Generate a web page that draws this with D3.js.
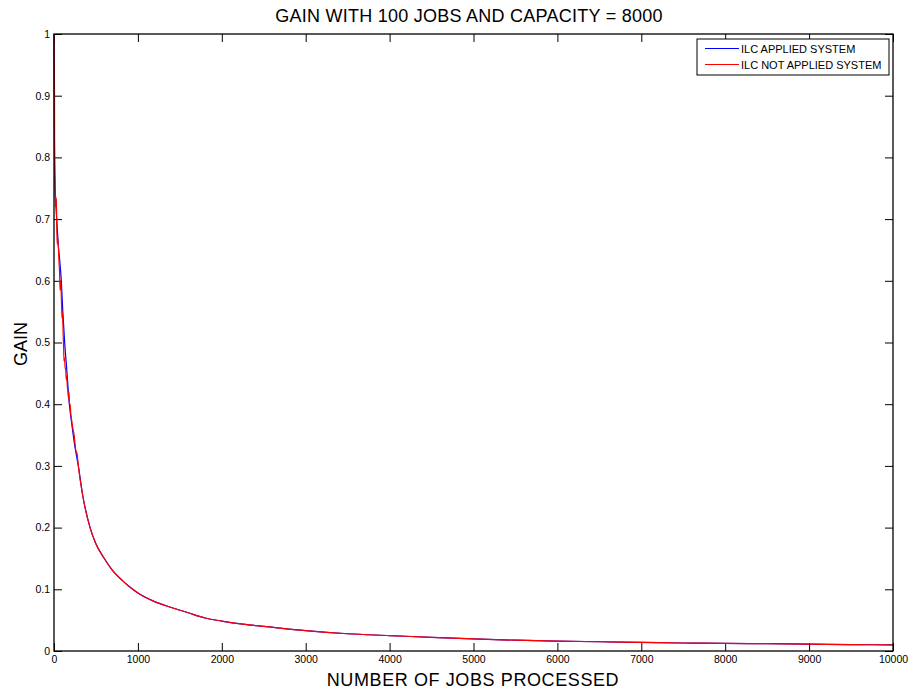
<!DOCTYPE html>
<html>
<head>
<meta charset="utf-8">
<script src="https://cdn.jsdelivr.net/npm/d3@7/dist/d3.min.js"></script>
<style>
  html, body { margin: 0; padding: 0; background: #fff; }
  svg { display: block; font-family: "Liberation Sans", Arial, sans-serif; }
</style>
</head>
<body>
<svg id="chart" width="912" height="693"></svg>
<script>
// Jobs processed (x) and gain readings for each system
const jobsApplied = [0, 4, 10, 20, 32, 50, 70, 87, 105, 127, 150, 183, 210, 245, 290, 345, 430, 495, 590, 690, 800, 900, 1000, 1200, 1400, 1600, 1800, 2000, 2250, 2500, 3000, 3500, 4000, 4500, 5000, 5500, 6000, 6500, 7000, 7500, 8000, 8500, 9000, 9500, 10000];
const gainApplied = [1.0, 0.85, 0.77, 0.73, 0.70, 0.66, 0.63, 0.60, 0.55, 0.50, 0.46, 0.40, 0.37, 0.335, 0.30, 0.25, 0.20, 0.175, 0.152, 0.132, 0.116, 0.104, 0.094, 0.080, 0.0705, 0.062, 0.0535, 0.0485, 0.0435, 0.040, 0.033, 0.028, 0.025, 0.022, 0.0195, 0.0175, 0.016, 0.015, 0.014, 0.013, 0.0125, 0.0118, 0.011, 0.0104, 0.0098];

const jobsNotApplied = [0, 2, 4, 6, 8, 10, 12, 16, 22, 28, 34, 38, 44, 52, 60, 66, 72, 80, 88, 95, 100, 108, 115, 119, 126, 132, 140, 146, 152, 158, 166, 172, 178, 184, 192, 200, 210, 220, 226, 240, 260, 275, 290, 345, 430, 495, 590, 690, 800, 900, 1000, 1200, 1400, 1600, 1800, 2000, 2250, 2500, 3000, 3500, 4000, 4500, 5000, 5500, 6000, 6500, 7000, 7500, 8000, 8500, 9000, 9500, 10000];
const gainNotApplied = [1.0, 0.96, 0.94, 0.905, 0.80, 0.77, 0.766, 0.72, 0.735, 0.73, 0.68, 0.66, 0.67, 0.655, 0.63, 0.615, 0.585, 0.60, 0.57, 0.54, 0.55, 0.52, 0.49, 0.47, 0.475, 0.46, 0.455, 0.44, 0.445, 0.43, 0.42, 0.41, 0.42, 0.40, 0.40, 0.385, 0.375, 0.365, 0.36, 0.35, 0.325, 0.32, 0.30, 0.25, 0.20, 0.175, 0.152, 0.132, 0.116, 0.104, 0.094, 0.080, 0.0705, 0.062, 0.0535, 0.0485, 0.0435, 0.040, 0.033, 0.028, 0.025, 0.022, 0.0195, 0.0175, 0.016, 0.015, 0.014, 0.013, 0.0125, 0.0118, 0.011, 0.0104, 0.0098];

const xTicks = [0, 1000, 2000, 3000, 4000, 5000, 6000, 7000, 8000, 9000, 10000];
const yTicks = [0, 0.1, 0.2, 0.3, 0.4, 0.5, 0.6, 0.7, 0.8, 0.9, 1];
const seriesNames = ["ILC APPLIED SYSTEM", "ILC NOT APPLIED SYSTEM"];
const seriesColors = ["#0000ff", "#ff0000"];

const margin = { left: 54, right: 19, top: 34, bottom: 42 };
const W = 912, H = 693;
const svg = d3.select("#chart");

const x = d3.scaleLinear().domain([0, 10000]).range([margin.left, W - margin.right]);
const y = d3.scaleLinear().domain([0, 1]).range([H - margin.bottom, margin.top]);

const tickLen = 8;

// Bottom axis (inward ticks, labelled)
const axBottom = svg.append("g").attr("transform", `translate(0,${y(0)})`)
  .call(d3.axisBottom(x).tickValues(xTicks).tickSizeInner(-tickLen).tickSizeOuter(0).tickPadding(5).tickFormat(d3.format("d")));
// Top axis (ticks only)
const axTop = svg.append("g").attr("transform", `translate(0,${y(1)})`)
  .call(d3.axisTop(x).tickValues(xTicks).tickSizeInner(-tickLen).tickSizeOuter(0).tickFormat(""));
// Left axis (labelled)
const axLeft = svg.append("g").attr("transform", `translate(${x(0)},0)`)
  .call(d3.axisLeft(y).tickValues(yTicks).tickSizeInner(-tickLen).tickSizeOuter(0).tickPadding(4).tickFormat(d3.format("")));
// Right axis (ticks only)
const axRight = svg.append("g").attr("transform", `translate(${x(10000)},0)`)
  .call(d3.axisRight(y).tickValues(yTicks).tickSizeInner(-tickLen).tickSizeOuter(0).tickFormat(""));

[axBottom, axTop, axLeft, axRight].forEach(g => {
  g.select(".domain").remove();
  g.selectAll(".tick line").attr("stroke", "#000").attr("stroke-width", 1);
  g.selectAll("text").attr("fill", "#000").style("font-size", "10.5px").style("font-family", "Liberation Sans, Arial, sans-serif");
});

// Data lines
const line = d3.line().x(d => x(d[0])).y(d => y(d[1])).curve(d3.curveMonotoneX);
const dataApplied = jobsApplied.map((j, i) => [j, gainApplied[i]]);
const dataNotApplied = jobsNotApplied.map((j, i) => [j, gainNotApplied[i]]);

svg.append("path").datum(dataApplied)
  .attr("d", line).attr("fill", "none")
  .attr("stroke", seriesColors[0]).attr("stroke-width", 1.2);
svg.append("path").datum(dataNotApplied)
  .attr("d", line).attr("fill", "none")
  .attr("stroke", seriesColors[1]).attr("stroke-width", 1.2);

// Axes box border
svg.append("rect")
  .attr("x", x(0)).attr("y", y(1))
  .attr("width", x(10000) - x(0)).attr("height", y(0) - y(1))
  .attr("fill", "none").attr("stroke", "#000").attr("stroke-width", 1.3);

// Title and axis labels
svg.append("text")
  .attr("x", 469).attr("y", 22)
  .attr("text-anchor", "middle").style("font-size", "18px").style("letter-spacing", "0.25px")
  .text("GAIN WITH 100 JOBS AND CAPACITY = 8000");

svg.append("text")
  .attr("x", 473).attr("y", 686)
  .attr("text-anchor", "middle").style("font-size", "18px").style("letter-spacing", "0.6px")
  .text("NUMBER OF JOBS PROCESSED");

svg.append("text")
  .attr("transform", `translate(27,344) rotate(-90)`)
  .attr("text-anchor", "middle").style("font-size", "18px")
  .text("GAIN");

// Legend
const lg = svg.append("g").attr("transform", "translate(697,39)");
lg.append("rect").attr("width", 192).attr("height", 36)
  .attr("fill", "#fff").attr("stroke", "#000").attr("stroke-width", 1);
seriesNames.forEach((name, i) => {
  const yy = 9.5 + i * 16;
  lg.append("line").attr("x1", 8).attr("x2", 42).attr("y1", yy).attr("y2", yy)
    .attr("stroke", seriesColors[i]).attr("stroke-width", 1);
  lg.append("text").attr("x", 44).attr("y", yy + 4)
    .style("font-size", "11px").text(name);
});
</script>
</body>
</html>
